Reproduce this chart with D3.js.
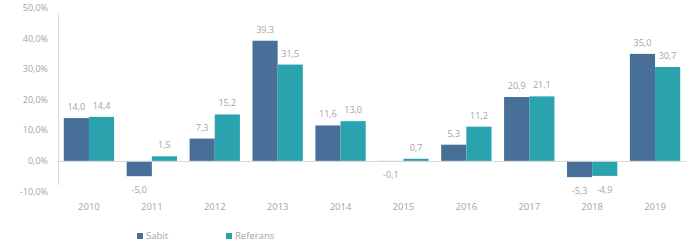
<!DOCTYPE html>
<html>
<head>
<meta charset="utf-8">
<script src="https://cdn.jsdelivr.net/npm/d3@7"></script>
<style>
    body { margin: 0; background: #fff; }
    svg { display: block; font-family: "Open Sans", sans-serif; }
    .tick_value_y, .bar_label, .year_label, .legend_text { fill: #a4a4a4; font-size: 9px; }
    .year_label { font-size: 9.5px; }
    .legend_text { font-size: 9.5px; }
</style>
</head>
<body>
<svg id="graph" width="696" height="250"></svg>
<script>
// chart values
let years = ["2010", "2011", "2012", "2013", "2014", "2015", "2016", "2017", "2018", "2019"];
let sabit = [14.0, -5.0, 7.3, 39.3, 11.6, -0.1, 5.3, 20.9, -5.3, 35.0];
let referans = [14.4, 1.5, 15.2, 31.5, 13.0, 0.7, 11.2, 21.1, -4.9, 30.7];
let series_names = ["Sabit", "Referans"];
let y_ticks = [-10, 0, 10, 20, 30, 40, 50];

let colors = ["#476f98", "#2ba3ae"];

let svg = d3.select("#graph");

let yScale = d3.scaleLinear()
    .domain([-10, 50])
    .range([191.5, 8]);

let xScale = d3.scaleBand()
    .domain(years)
    .range([57.5, 686.5])
    .paddingInner(0.2)
    .paddingOuter(0.1);

let subScale = d3.scaleBand()
    .domain(series_names)
    .range([0, xScale.bandwidth()]);

// turkish style: comma decimals, plain hyphen minus
let comma = v => d3.format(".1f")(v).replace(".", ",").replace("\u2212", "-");

// y tick labels
svg.append("g")
    .selectAll(".tick_value_y")
    .data(y_ticks)
    .enter()
    .append("text")
    .attr("class", "tick_value_y")
    .attr("x", 48)
    .attr("y", d => yScale(d))
    .attr("dy", "0.35em")
    .attr("text-anchor", "end")
    .text(d => comma(d) + "%");

// vertical axis line
svg.append("line")
    .attr("x1", 58.5).attr("x2", 58.5)
    .attr("y1", yScale(48)).attr("y2", yScale(-8))
    .attr("stroke", "#dcdcdc");

let rows = [];
years.forEach((y, i) => {
    rows.push({year: y, name: "Sabit", value: sabit[i], color: colors[0]});
    rows.push({year: y, name: "Referans", value: referans[i], color: colors[1]});
});

svg.append("g")
    .selectAll("rect")
    .data(rows)
    .enter()
    .append("rect")
    .attr("x", d => xScale(d.year) + subScale(d.name))
    .attr("width", subScale.bandwidth())
    .attr("y", d => yScale(Math.max(0, d.value)))
    .attr("height", d => Math.abs(yScale(d.value) - yScale(0)))
    .attr("fill", d => d.color);

// zero line
svg.append("line")
    .attr("x1", 58).attr("x2", 687)
    .attr("y1", yScale(0) + 0.5).attr("y2", yScale(0) + 0.5)
    .attr("stroke", "#d6d6d6");

svg.append("g")
    .selectAll(".bar_label")
    .data(rows)
    .enter()
    .append("text")
    .attr("class", "bar_label")
    .attr("x", d => xScale(d.year) + subScale(d.name) + subScale.bandwidth() / 2)
    .attr("y", d => d.value >= 0 ? yScale(d.value) - 8 : yScale(d.value) + 17)
    .attr("text-anchor", "middle")
    .text(d => comma(d.value));

svg.append("g")
    .selectAll(".year_label")
    .data(years)
    .enter()
    .append("text")
    .attr("class", "year_label")
    .attr("x", d => xScale(d) + xScale.bandwidth() / 2)
    .attr("y", 210)
    .attr("text-anchor", "middle")
    .text(d => d);

// legend
let legend = svg.append("g")
    .selectAll("g")
    .data(series_names)
    .enter()
    .append("g")
    .attr("transform", (d, i) => "translate(" + (137 + i * 89) + ",233)");

legend.append("rect")
    .attr("width", 6).attr("height", 6)
    .attr("fill", (d, i) => colors[i]);

legend.append("text")
    .attr("class", "legend_text")
    .attr("x", 9)
    .attr("y", 3)
    .attr("dy", "0.35em")
    .text(d => d);
</script>
</body>
</html>
